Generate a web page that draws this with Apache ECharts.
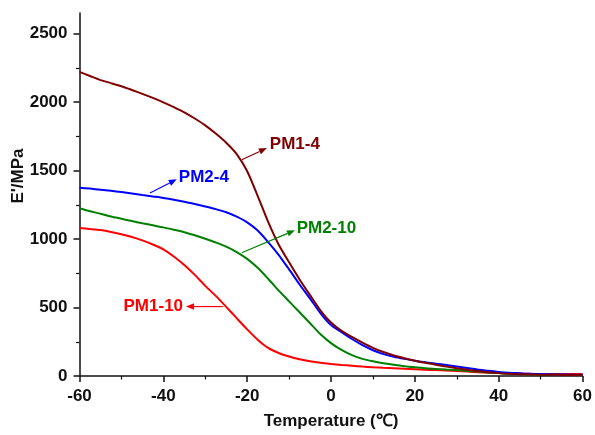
<!DOCTYPE html>
<html>
<head>
<meta charset="utf-8">
<script src="https://cdn.jsdelivr.net/npm/echarts@6/dist/echarts.min.js"></script>
<style>
html,body{margin:0;padding:0;background:#fff;}
#chart{width:595px;height:435px;}
</style>
</head>
<body>
<div id="chart"></div>
<script>
// ---- data ----
var temperature = [-60,-57.5,-55,-52.5,-50,-47.5,-45,-42.5,-40,-37.5,-35,-32.5,-30,-27.5,-25,-22.5,-20,-17.5,-15,-12.5,-10,-7.5,-5,-2.5,0,2.5,5,7.5,10,12.5,15,17.5,20,22.5,25,27.5,30,32.5,35,37.5,40,42.5,45,47.5,50,52.5,55,57.5,60];
var pm14  = [2220,2190,2160,2138,2115,2088,2060,2030,1998,1963,1925,1880,1830,1770,1703,1620,1495,1315,1125,960,830,705,590,478,390,330,285,243,205,175,150,130,112,96,82,69,57,46,36,28,21,16,13,11,10,9,8,7,7];
var pm24  = [1375,1368,1360,1352,1343,1333,1322,1311,1300,1287,1272,1255,1237,1218,1195,1163,1122,1062,978,885,778,668,565,458,372,320,270,225,188,160,140,125,112,100,90,80,70,59,48,38,30,24,20,16,14,12,11,10,10];
var pm210 = [1225,1203,1185,1165,1148,1131,1115,1100,1085,1068,1050,1027,1002,975,945,905,855,790,710,625,545,465,385,305,240,190,152,125,107,93,82,72,64,57,52,47,43,37,32,26,21,17,14,12,10,9,8,7,7];
var pm110 = [1080,1073,1065,1052,1035,1015,990,960,925,872,810,738,658,585,505,422,340,265,205,168,142,122,107,96,88,81,75,69,64,60,57,53,50,46,43,40,36,32,28,24,21,19,18,16,15,14,14,14,14];
var seriesNames = ['PM1-4','PM2-4','PM2-10','PM1-10'];
var seriesColors = ['#800000','#0000ff','#008000','#ff0000'];
var yMajorTicks = [0,500,1000,1500,2000,2500];
var yMinorTicks = [250,750,1250,1750,2250];
// annotation arrows: [from(x,y), to(x,y)] in data space, label anchor in data space
var annoFrom  = [[-21.3,1579],[-43.2,1336],[-21.3,900],[-25.8,507]];
var annoTo    = [[-15.3,1664],[-36.8,1436],[-8.6,1064],[-34.6,507]];
var annoLabel = [[-14.6,1693],[-36.3,1450],[-8.2,1079],[-35.3,507]];
var annoAlign = ['left','left','left','right'];

function pairs(ys){ return temperature.map(function(t,i){ return [t, ys[i]]; }); }
var allY = [pm14, pm24, pm210, pm110];

var FONT = '"Liberation Sans", Arial, sans-serif';
var chart = echarts.init(document.getElementById('chart'), null, {renderer:'canvas'});
var option = {
  backgroundColor: '#ffffff',
  animation: false,
  grid: {left: 79.5, right: 12, top: 13, bottom: 51, containLabel: false},
  xAxis: {
    type: 'value', min: -60, max: 60, interval: 20,
    name: 'Temperature (\u2103)', nameLocation: 'middle', nameGap: 37,
    nameTextStyle: {fontFamily: FONT, fontWeight: 'bold', fontSize: 17, color: '#111'},
    axisLine: {show: true, onZero: false, lineStyle: {color: '#111', width: 1.5}},
    axisTick: {show: true, inside: false, length: 6, lineStyle: {color: '#111', width: 1.5}},
    minorTick: {show: true, splitNumber: 2, length: 3.5, lineStyle: {color: '#111', width: 1.2}},
    axisLabel: {fontFamily: FONT, fontWeight: 'bold', fontSize: 17, color: '#111', margin: 12},
    splitLine: {show: false}
  },
  yAxis: [{
    type: 'value', min: 0, max: 2650,
    axisLine: {show: true, onZero: false, lineStyle: {color: '#111', width: 1.5}},
    axisTick: {show: true, inside: false, length: 6, customValues: yMajorTicks, lineStyle: {color: '#111', width: 1.5}},
    axisLabel: {fontFamily: FONT, fontWeight: 'bold', fontSize: 17, color: '#111', margin: 12, customValues: yMajorTicks,
      formatter: function(v){ return String(v); }},
    splitLine: {show: false}
  },{
    type: 'value', min: 0, max: 2650, position: 'left', offset: 0,
    axisLine: {show: false, onZero: false},
    axisTick: {show: true, inside: false, length: 3.5, customValues: yMinorTicks, lineStyle: {color: '#111', width: 1.2}},
    axisLabel: {show: false},
    splitLine: {show: false}
  }],
  series: allY.map(function(ys, i){
    return {
      name: seriesNames[i], type: 'line', data: pairs(ys), yAxisIndex: 0,
      showSymbol: false, symbol: 'none', smooth: 0.25,
      lineStyle: {color: seriesColors[i], width: 2},
      z: 10 - i
    };
  })
};
chart.setOption(option);

function drawAnnotations(){
  var els = [];
  for (var i = 0; i < annoFrom.length; i++){
    var p0 = chart.convertToPixel({xAxisIndex:0, yAxisIndex:0}, annoFrom[i]);
    var p1 = chart.convertToPixel({xAxisIndex:0, yAxisIndex:0}, annoTo[i]);
    var pl = chart.convertToPixel({xAxisIndex:0, yAxisIndex:0}, annoLabel[i]);
    var dx = p1[0]-p0[0], dy = p1[1]-p0[1];
    var len = Math.sqrt(dx*dx+dy*dy), ux = dx/len, uy = dy/len;
    var hl = 8, hw = 3.2;
    var bx = p1[0]-ux*hl, by = p1[1]-uy*hl;
    els.push({type:'line', shape:{x1:p0[0], y1:p0[1], x2:bx, y2:by}, style:{stroke:seriesColors[i], lineWidth:1.2}, z:20});
    els.push({type:'polygon', shape:{points:[[p1[0],p1[1]],[bx-uy*hw,by+ux*hw],[bx+uy*hw,by-ux*hw]]}, style:{fill:seriesColors[i]}, z:20});
    els.push({type:'text', x: pl[0], y: pl[1], style:{text: seriesNames[i], fill: seriesColors[i], font: 'bold 17px ' + FONT, align: annoAlign[i], verticalAlign: 'middle'}, z:20});
  }
  els.push({type:'text', x: 18, y: 176, rotation: Math.PI/2, style:{text: "E'/MPa", fill:'#111', font: 'bold 17px ' + FONT, align:'center', verticalAlign:'middle'}});
  chart.setOption({graphic: {elements: els}});
}
drawAnnotations();
</script>
</body>
</html>
